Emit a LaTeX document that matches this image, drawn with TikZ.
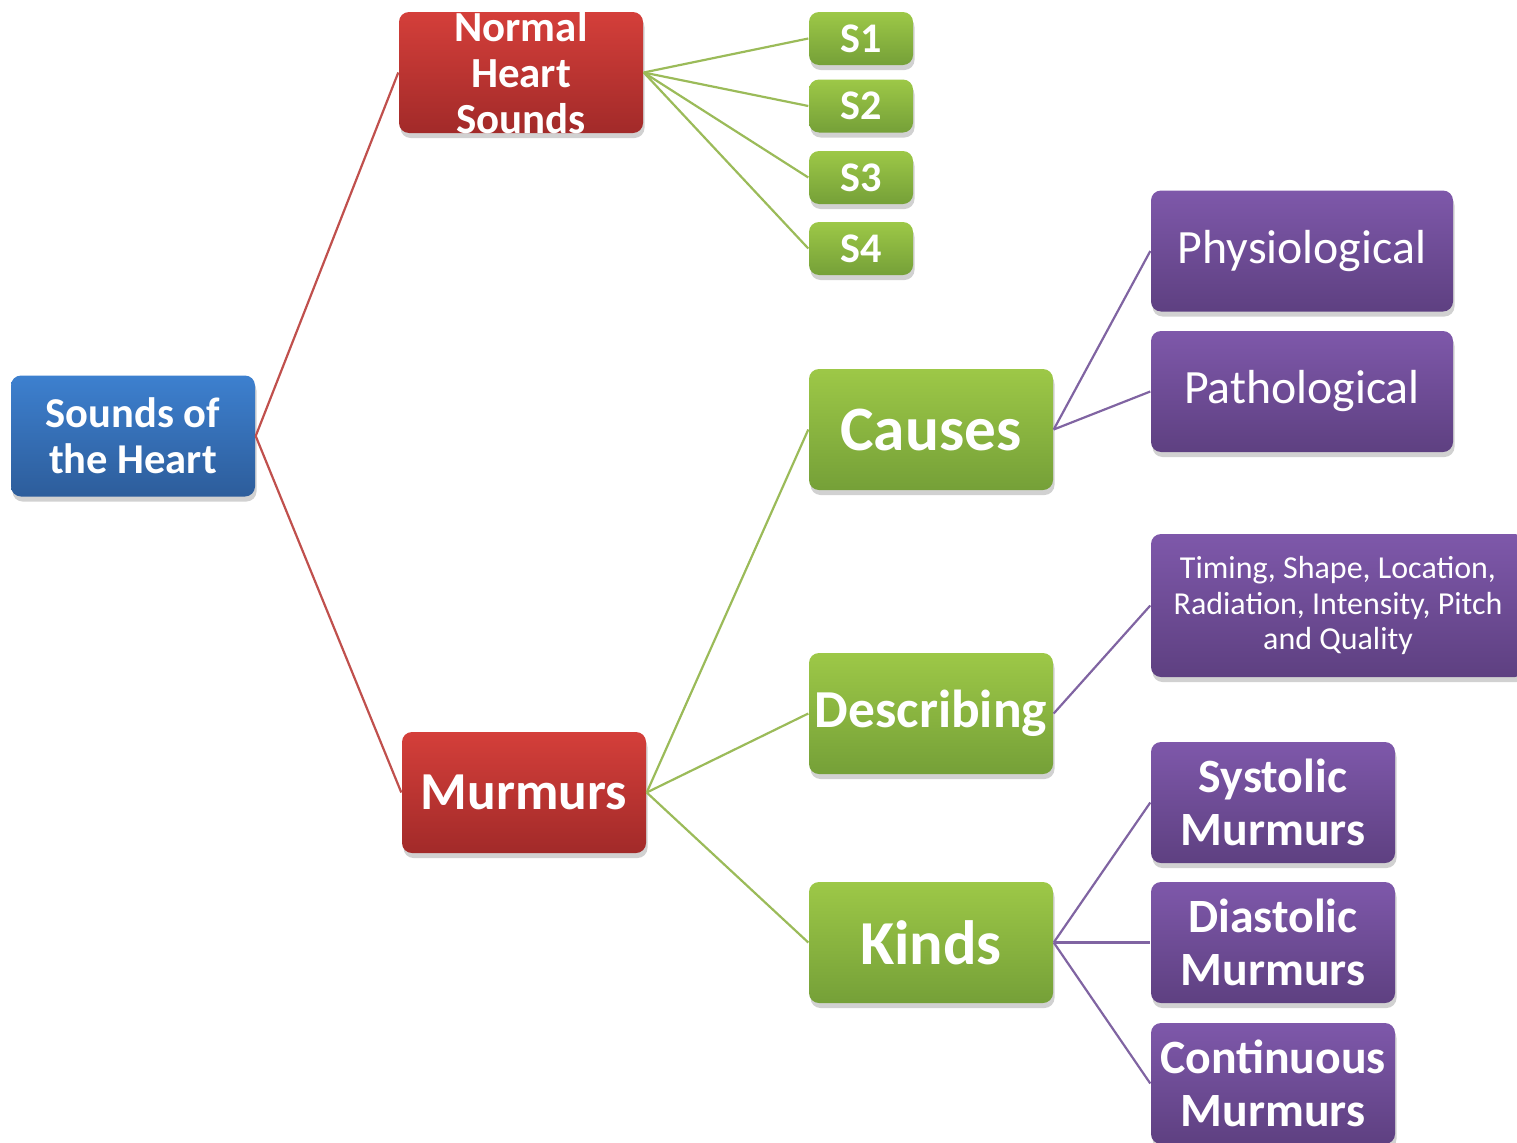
\documentclass[tikz,border=0pt]{standalone}
\usepackage{fontspec}
\setmainfont{Carlito}
\usetikzlibrary{shadows}

\definecolor{blueTop}{HTML}{3D80CF}
\definecolor{blueBot}{HTML}{2D5D9B}
\definecolor{redTop}{HTML}{D43F3A}
\definecolor{redBot}{HTML}{A22A29}
\definecolor{greenTop}{HTML}{9DC847}
\definecolor{greenBot}{HTML}{75A038}
\definecolor{purpleTop}{HTML}{7E58AA}
\definecolor{purpleBot}{HTML}{5E4081}
\definecolor{redLine}{HTML}{C0504D}
\definecolor{greenLine}{HTML}{9BBB59}
\definecolor{purpleLine}{HTML}{8064A2}

\begin{document}
\begin{tikzpicture}[x=0.1mm, y=-0.1mm,
  box/.style={rounded corners=1mm, text=white, align=center, inner sep=0pt,
    minimum width=24.4mm, minimum height=12.1mm,
    drop shadow={shadow xshift=0.15mm, shadow yshift=-0.5mm, opacity=0.18, fill=black}},
  bluebox/.style={box, top color=blueTop, bottom color=blueBot},
  redbox/.style={box, top color=redTop, bottom color=redBot},
  greenbox/.style={box, top color=greenTop, bottom color=greenBot},
  purplebox/.style={box, top color=purpleTop, bottom color=purpleBot},
  sbox/.style={greenbox, minimum width=10.4mm, minimum height=5.3mm,
    font=\fontsize{12}{12}\selectfont\bfseries},
  redline/.style={redLine, line width=0.22mm},
  greenline/.style={greenLine, line width=0.22mm},
  purpleline/.style={purpleLine, line width=0.22mm}]
  \useasboundingbox (0,0) rectangle (1517,1142);

  % root and first level
  \node[bluebox, font=\fontsize{12.1}{13.1}\selectfont\bfseries] (root) at (133,436) {Sounds of\\the Heart};
  \node[redbox, label={[text=white, align=center, font=\fontsize{12.2}{13.1}\selectfont\bfseries]center:Normal\\Heart\\Sounds}] (normal) at (521,72.5) {};
  \node[redbox, font=\fontsize{15.2}{15.2}\selectfont\bfseries] (murmurs) at (524,792.5) {Murmurs};

  % heart sounds
  \node[sbox] (s1) at (861,38.5) {S1};
  \node[sbox] (s2) at (861,106) {S2};
  \node[sbox] (s3) at (861,177.5) {S3};
  \node[sbox] (s4) at (861,248.5) {S4};

  % murmur topics
  \node[greenbox, font=\fontsize{18}{18}\selectfont\bfseries] (causes) at (931,429.5) {Causes};
  \node[greenbox, font=\fontsize{15.2}{15.2}\selectfont\bfseries] (describing) at (931,713.5) {Describing};
  \node[greenbox, font=\fontsize{17.8}{17.8}\selectfont\bfseries] (kinds) at (931,942.5) {Kinds};

  % leaves
  \node[purplebox, minimum width=30.2mm, font=\fontsize{13.6}{13.6}\selectfont] (physio) at (1302,251) {Physiological};
  \node[purplebox, minimum width=30.2mm, font=\fontsize{13.6}{13.6}\selectfont] (patho) at (1302,391.5) {Pathological};
  \node[purplebox, minimum width=37.4mm, minimum height=14.3mm, font=\fontsize{9.1}{10}\selectfont] (timing) at (1338,605.5) {Timing, Shape, Location,\\Radiation, Intensity, Pitch\\and Quality};
  \node[purplebox, font=\fontsize{13.6}{15.2}\selectfont\bfseries] (systolic) at (1273,802.5) {Systolic\\Murmurs};
  \node[purplebox, font=\fontsize{13.6}{15.2}\selectfont\bfseries] (diastolic) at (1273,942.5) {Diastolic\\Murmurs};
  \node[purplebox, font=\fontsize{13.6}{15.2}\selectfont\bfseries] (continuous) at (1273,1083.5) {Continuous\\Murmurs};

  % connectors
  \draw[redline] (root.east) -- (normal.west);
  \draw[redline] (root.east) -- (murmurs.west);
  \foreach \s in {s1,s2,s3,s4}
    \draw[greenline] (normal.east) -- (\s.west);
  \foreach \t in {causes,describing,kinds}
    \draw[greenline] (murmurs.east) -- (\t.west);
  \draw[purpleline] (causes.east) -- (physio.west);
  \draw[purpleline] (causes.east) -- (patho.west);
  \draw[purpleline] (describing.east) -- (timing.west);
  \foreach \k in {systolic,diastolic,continuous}
    \draw[purpleline] (kinds.east) -- (\k.west);
\end{tikzpicture}
\end{document}
